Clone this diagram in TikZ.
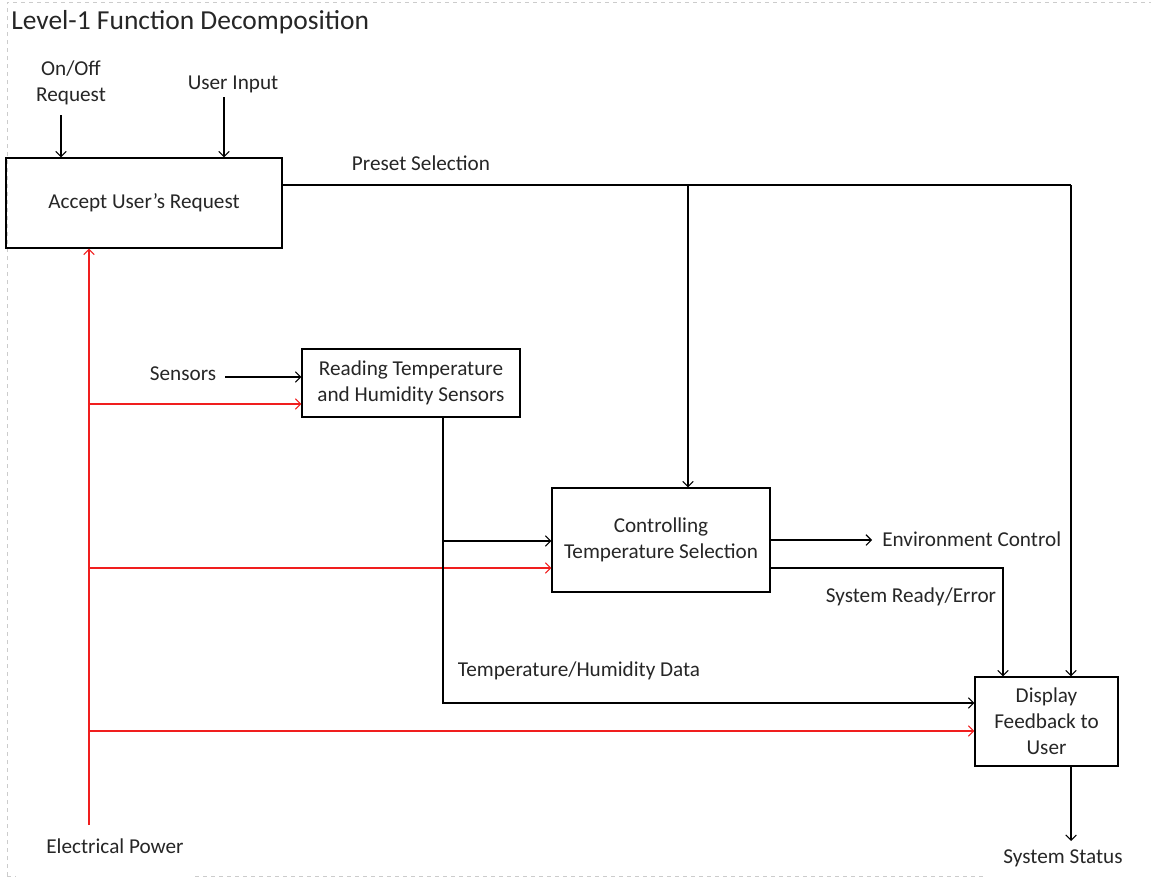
\documentclass[tikz,border=0pt]{standalone}
\usepackage{fontspec}
\setmainfont{Carlito}
\usetikzlibrary{arrows.meta}
\definecolor{pwr}{RGB}{240,30,30}
\tikzset{
  every node/.style={font=\fontsize{15.9}{19.5}\selectfont, text=black!85},
  box/.style={draw, line width=0.8pt, align=center, inner sep=0pt},
  lbl/.style={align=center, inner sep=0pt},
  flow/.style={line width=0.8pt, -{Straight Barb[length=4pt,width=8pt]}},
  plain/.style={line width=0.8pt},
  power/.style={flow, draw=pwr},
  frame/.style={draw=black!20, dashed, line width=0.6pt}
}
\begin{document}
\begin{tikzpicture}[x=0.75pt,y=-0.75pt]
\useasboundingbox (0,0) rectangle (1151,878);
% frame
\draw[frame] (7,876) -- (7,2) -- (1151,2);
\draw[frame] (7,876) -- (16,876);
\draw[frame] (195,876) -- (985,876);
% title
\node[anchor=west, inner sep=0pt, font=\fontsize{20.6}{24}\selectfont] (title) at (11,22) {Level-1 Function Decomposition};
% boxes
\node[box, minimum width=276*0.75pt, minimum height=90*0.75pt] (A) at (144,203) {Accept User’s Request};
\node[box, minimum width=218*0.75pt, minimum height=68*0.75pt] (B) at (411,383) {Reading Temperature\\and Humidity Sensors};
\node[box, minimum width=218*0.75pt, minimum height=104*0.75pt] (C) at (661,540) {Controlling\\Temperature Selection};
\node[box, minimum width=143*0.75pt, minimum height=89*0.75pt] (D) at (1046.5,721.5) {Display\\Feedback to\\User};
% labels
\node[lbl] (onoff) at (71,83) {On/Off\\Request};
\node[lbl] (uin) at (233,84) {User Input};
\node[lbl] (preset) at (421,163) {Preset Selection};
\node[lbl] (sens) at (183,374) {Sensors};
\node[lbl, anchor=west] (env) at (882,539) {Environment Control};
\node[lbl] (ready) at (911,597) {System Ready/Error};
\node[lbl] (tdata) at (579,671) {Temperature/Humidity Data};
\node[lbl] (epow) at (115,846) {Electrical Power};
\node[lbl] (sstat) at (1063,858) {System Status};
% coordinates
\coordinate (onoffS) at (61,115);
\coordinate (uinS) at (224,97);
\coordinate (aout) at (282,185);
\coordinate (j1) at (688,185);
\coordinate (j2) at (1071,185);
\coordinate (sensS) at (225,377);
\coordinate (pw) at (89,825);
\coordinate (r1) at (89,404);
\coordinate (r2) at (89,568);
\coordinate (r3) at (89,731);
\coordinate (bo) at (443,417);
\coordinate (bj) at (443,541);
\coordinate (tdC) at (443,703);
\coordinate (co) at (770,568);
\coordinate (cd) at (1003,568);
\coordinate (envE) at (872,540);
\coordinate (dout) at (1071,766);
\coordinate (sEnd) at (1071,841);
% inputs to A
\draw[flow] (onoffS) -- (onoffS |- A.north);
\draw[flow] (uinS) -- (uinS |- A.north);
% preset selection
\draw[plain] (aout) -- (j2);
\draw[flow] (j1) -- (j1 |- C.north);
\draw[flow] (j2) -- (j2 |- D.north);
% sensors
\draw[flow] (sensS) -- (sensS -| B.west);
% power
\draw[power] (pw) -- (pw |- A.south);
\draw[power] (r1) -- (r1 -| B.west);
\draw[power] (r2) -- (r2 -| C.west);
\draw[power] (r3) -- (r3 -| D.west);
% B outputs
\draw[flow] (bo) -- (tdC) -- (tdC -| D.west);
\draw[flow] (bj) -- (bj -| C.west);
% C outputs
\draw[flow] (C.east) -- (envE);
\draw[flow] (co) -- (cd) -- (cd |- D.north);
% D output
\draw[flow] (dout) -- (sEnd);
\end{tikzpicture}
\end{document}
